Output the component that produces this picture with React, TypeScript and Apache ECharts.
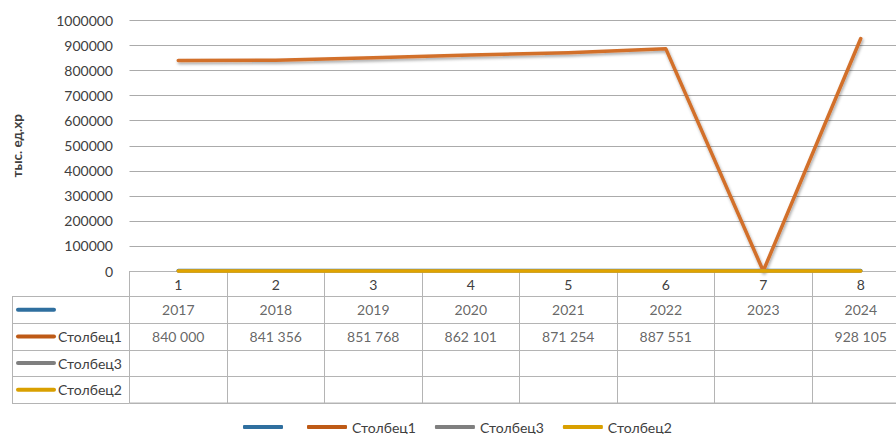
import React, { useEffect, useRef } from 'react';
import * as echarts from 'echarts';

// ---- data ----
const categories = ['1', '2', '3', '4', '5', '6', '7', '8'];
const seriesNames = ['\u200b', 'Столбец1', 'Столбец3', 'Столбец2'];
const blankSeries: (number | null)[] = [2017, 2018, 2019, 2020, 2021, 2022, 2023, 2024];
const stolbec1: (number | null)[] = [840000, 841356, 851768, 862101, 871254, 887551, null, 928105];
const stolbec3: (number | null)[] = [null, null, null, null, null, null, null, null];
const stolbec2: (number | null)[] = [null, null, null, null, null, null, null, null];
const yMin = 0;
const yMax = 1000000;
const yStep = 100000;
const yAxisTitle = 'тыс. ед.хр';

// ---- styles ----
const FONT = 'Lato, "Noto Sans", sans-serif';
const TEXT = '#404040';
const GRID = '#b4b4b4';
const keyColors = ['#2F6F9F', '#BE5A16', '#7F7F7F', '#D9A000'];
const lineColors = ['#3479AD', '#D2702C', '#8A8A8A', '#E0A400'];

const allSeries = [blankSeries, stolbec1, stolbec3, stolbec2];

function fmt(v: number, row: number): string {
  if (row === 0) return String(v);
  return String(v).replace(/\B(?=(\d{3})+(?!\d))/g, ' ');
}

export default function App() {
  const ref = useRef<HTMLDivElement>(null);
  useEffect(() => {
    if (!ref.current) return;
    const chart = echarts.init(ref.current, undefined, { renderer: 'svg' });

    const cells: any[] = [];
    allSeries.forEach((arr, r) => {
      arr.forEach((v, c) => {
        if (v != null) cells.push([c, r, fmt(v, r)]);
      });
    });

    const rich: any = {
      t: { fontSize: 14, color: TEXT, fontFamily: FONT, padding: [0, 0, 0, 2] },
    };
    keyColors.forEach((col, i) => {
      rich['k' + i] = { width: 40, height: 4, backgroundColor: col, borderRadius: 2 };
    });

    const lineSeries = allSeries.map((arr, i) => {
      const shadow =
        i === 1
          ? {
              shadowColor: 'rgba(0,0,0,0.35)',
              shadowBlur: 3,
              shadowOffsetX: 1,
              shadowOffsetY: 2,
            }
          : {};
      return {
        type: 'line',
        name: seriesNames[i],
        xAxisIndex: 0,
        yAxisIndex: 0,
        data: arr.map((v) => (v == null ? 0 : v)),
        symbol: 'none',
        clip: false,
        color: keyColors[i],
        itemStyle: { color: keyColors[i] },
        lineStyle: {
          width: 3.5,
          color: lineColors[i],
          cap: 'round',
          join: 'round',
          ...shadow,
        },
        z: 3 + i,
      };
    });

    chart.setOption({
      animation: false,
      textStyle: { fontFamily: FONT },
      legend: {
        left: 243,
        top: 420,
        padding: 0,
        itemWidth: 40,
        itemHeight: 4,
        itemGap: 19,
        icon: 'roundRect',
        data: seriesNames,
        textStyle: { fontSize: 14, color: TEXT, fontFamily: FONT },
      },
      grid: [
        { left: 129.5, top: 20.5, width: 780, height: 250.5 },
        {
          left: 129.5,
          top: 296.5,
          width: 780,
          height: 106.5,
          show: true,
          borderColor: GRID,
          borderWidth: 1,
        },
      ],
      xAxis: [
        {
          gridIndex: 0,
          type: 'category',
          data: categories,
          boundaryGap: true,
          axisLine: { show: true, lineStyle: { color: GRID } },
          axisTick: { show: true, interval: 0, length: 25.5, lineStyle: { color: GRID } },
          axisLabel: { interval: 0, margin: 6, fontSize: 14, color: TEXT, fontFamily: FONT },
          splitLine: { show: false },
        },
        {
          gridIndex: 1,
          type: 'category',
          data: categories,
          boundaryGap: true,
          axisLine: { show: false },
          axisTick: { show: false },
          axisLabel: { show: false },
          splitLine: { show: true, interval: 0, lineStyle: { color: GRID } },
        },
      ],
      yAxis: [
        {
          gridIndex: 0,
          type: 'value',
          min: yMin,
          max: yMax,
          interval: yStep,
          name: yAxisTitle,
          nameLocation: 'middle',
          nameRotate: 90,
          nameGap: 106,
          nameTextStyle: { fontSize: 13.5, fontWeight: 'bold', color: TEXT, fontFamily: FONT },
          axisLine: { show: false },
          axisTick: { show: false },
          axisLabel: {
            margin: 16.5,
            fontSize: 14,
            color: TEXT,
            fontFamily: FONT,
            formatter: (v: number) => String(v),
          },
          splitLine: { show: true, lineStyle: { color: '#ababab' } },
        },
        {
          gridIndex: 1,
          type: 'category',
          data: seriesNames,
          inverse: true,
          boundaryGap: true,
          axisLine: { show: true, lineStyle: { color: GRID } },
          axisTick: { show: true, interval: 0, length: 117.5, lineStyle: { color: GRID } },
          splitLine: { show: true, interval: 0, lineStyle: { color: GRID } },
          axisLabel: {
            interval: 0,
            margin: 113.5,
            align: 'left',
            formatter: (v: string, i: number) => (i === 0 ? '{k0|}' : `{k${i}|}{t|${v}}`),
            rich,
          },
        },
        {
          gridIndex: 1,
          type: 'category',
          data: seriesNames,
          inverse: true,
          position: 'left',
          offset: 117.5,
          axisLine: { show: true, lineStyle: { color: GRID } },
          axisTick: { show: false },
          axisLabel: { show: false },
          splitLine: { show: false },
        },
      ],
      series: [
        ...lineSeries,
        {
          type: 'scatter',
          name: 'table',
          xAxisIndex: 1,
          yAxisIndex: 1,
          data: cells,
          symbolSize: 1,
          itemStyle: { color: 'transparent' },
          silent: true,
          label: {
            show: true,
            position: 'inside',
            formatter: (p: any) => p.data[2],
            fontSize: 14,
            color: TEXT,
            fontFamily: FONT,
          },
        },
      ],
    });
    return () => chart.dispose();
  }, []);

  return (
    <div style={{ position: 'fixed', left: 0, top: 0, width: 896, height: 434, overflow: 'hidden', background: '#fff' }}>
      <div ref={ref} style={{ position: 'absolute', left: 0, top: 0, width: 910, height: 434 }} />
    </div>
  );
}
